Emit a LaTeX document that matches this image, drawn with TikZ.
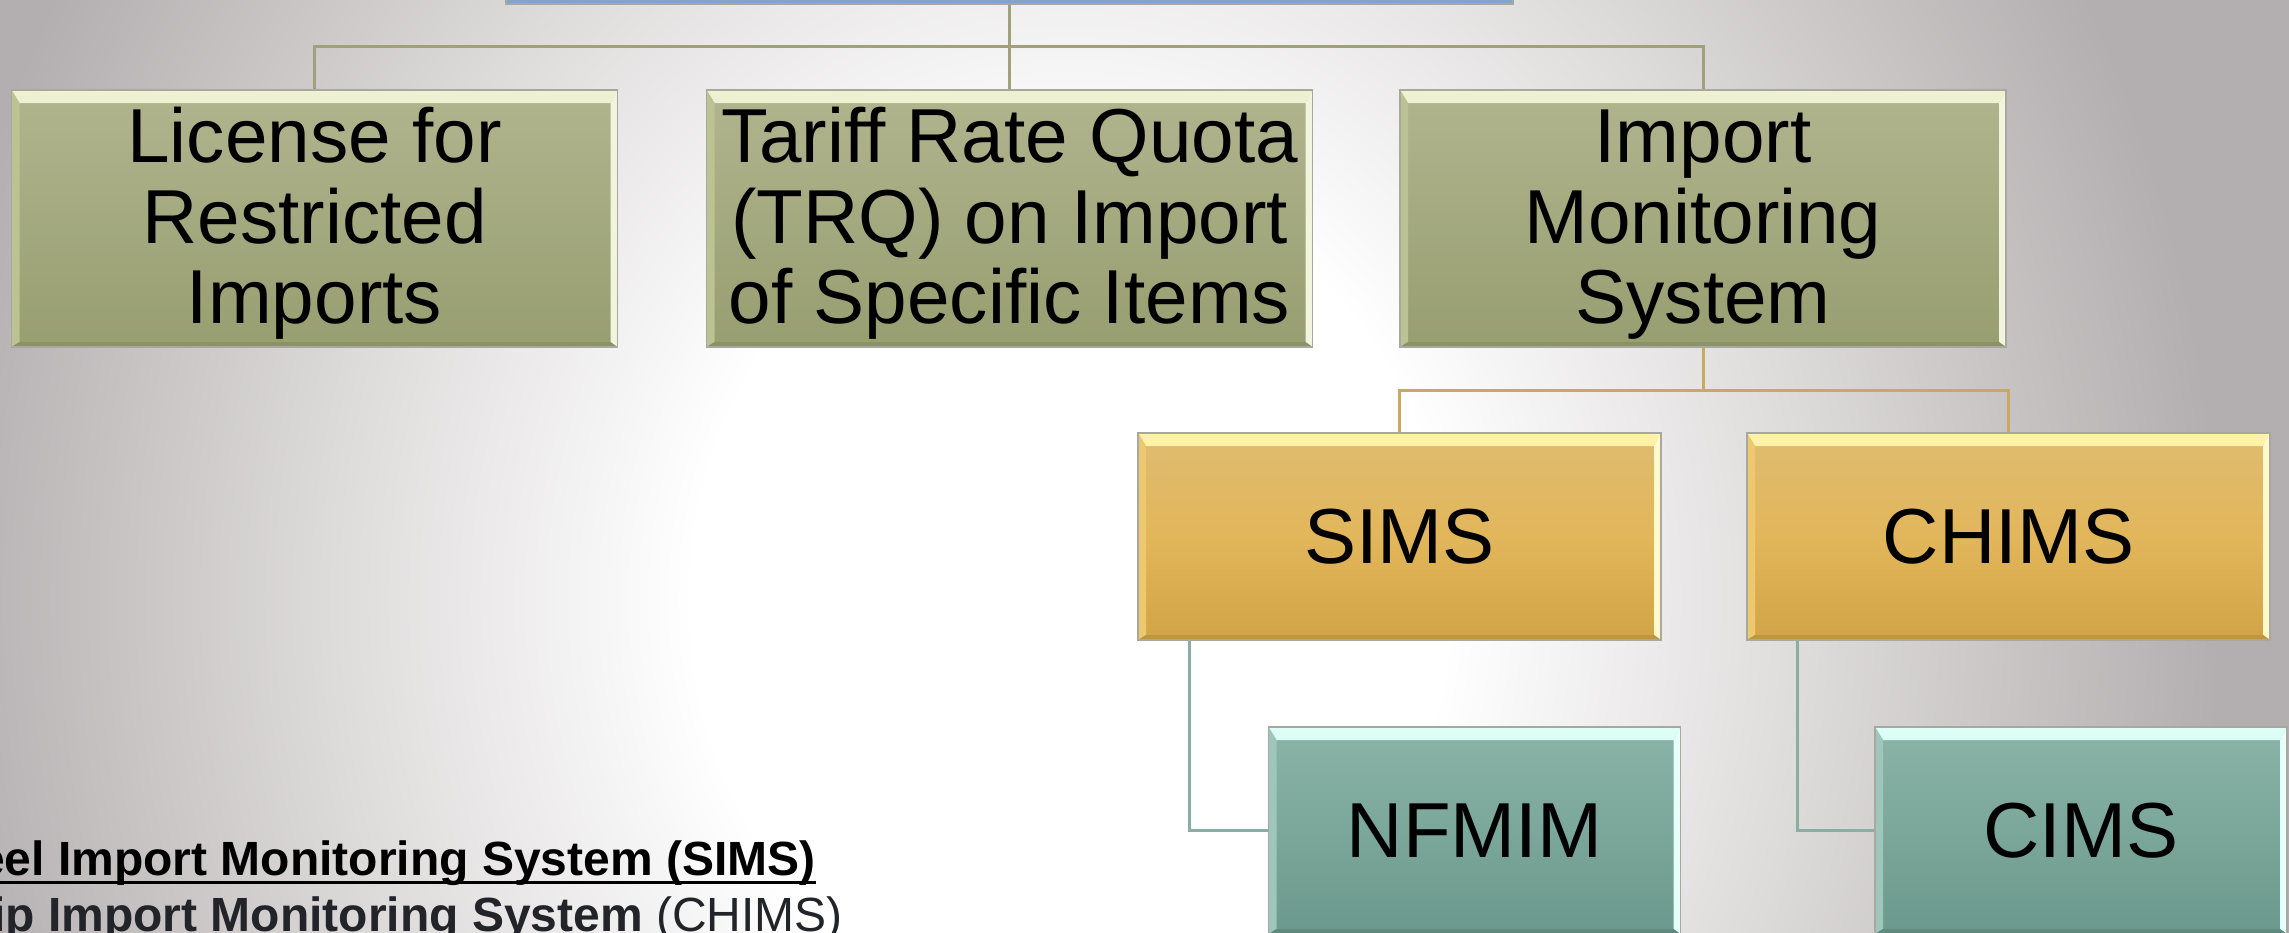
\documentclass[tikz,border=0pt]{standalone}
\usepackage{fontspec}
\setmainfont{Liberation Sans}
\usetikzlibrary{calc}

% slide background
\definecolor{bgedge}{HTML}{B3AEAF}
\definecolor{bgmid}{HTML}{DEDBDB}
% level 1 (olive)
\definecolor{grtop}{HTML}{B1B58F}
\definecolor{grbot}{HTML}{979E70}
\definecolor{grhi}{HTML}{EEF2D2}
\definecolor{grleft}{HTML}{BCC392}
\definecolor{grright}{HTML}{F2F5DE}
\definecolor{grbase}{HTML}{8C9268}
% level 2 (gold)
\definecolor{gdtop}{HTML}{DFBC72}
\definecolor{gdmid}{HTML}{E2B65A}
\definecolor{gdbot}{HTML}{D1A446}
\definecolor{gdhi}{HTML}{FFF2A8}
\definecolor{gdleft}{HTML}{EDC86F}
\definecolor{gdright}{HTML}{FFF9CC}
\definecolor{gdbase}{HTML}{C0953D}
% level 3 (teal)
\definecolor{tltop}{HTML}{8BB4A8}
\definecolor{tlbot}{HTML}{6C998D}
\definecolor{tlhi}{HTML}{DDFFF8}
\definecolor{tlleft}{HTML}{9EC6BA}
\definecolor{tlright}{HTML}{E6FFF9}
\definecolor{tlbase}{HTML}{608A7E}
% top box, outlines, connectors
\definecolor{rootblue}{HTML}{7FA6C8}
\definecolor{boxline}{HTML}{A8A8A0}
\definecolor{lineone}{HTML}{A0A07C}
\definecolor{linetwo}{HTML}{C9A962}
\definecolor{linethree}{HTML}{8CADA4}
\definecolor{notegrey}{HTML}{222429}

% the central 25bp of the shading spans the shaded path
\pgfdeclareradialshading{slidebg}{\pgfpoint{0bp}{0bp}}{%
  color(0bp)=(white); color(4.1bp)=(white); color(8bp)=(bgmid);
  color(12.5bp)=(bgedge); color(50bp)=(bgedge)}

% extra height on a first line, to lower a block of lines in its box
\newcommand{\lowerby}{\rule{0pt}{65pt}}

\tikzset{
  bevel/.style n args={4}{path picture={
    % top facet
    \shade[top color=#1, bottom color=#1!45!#2]
      (path picture bounding box.north west) -- (path picture bounding box.north east)
      -- ([shift={(-7pt,-13pt)}]path picture bounding box.north east)
      -- ([shift={(8pt,-13pt)}]path picture bounding box.north west) -- cycle;
    % left facet
    \fill[#2]
      (path picture bounding box.north west)
      -- ([shift={(8pt,-13pt)}]path picture bounding box.north west)
      -- ([shift={(8pt,5pt)}]path picture bounding box.south west)
      -- (path picture bounding box.south west) -- cycle;
    % right facet
    \fill[#3]
      (path picture bounding box.north east)
      -- ([shift={(-7pt,-13pt)}]path picture bounding box.north east)
      -- ([shift={(-7pt,5pt)}]path picture bounding box.south east)
      -- (path picture bounding box.south east) -- cycle;
    % bottom facet
    \fill[#4]
      (path picture bounding box.south west)
      -- ([shift={(8pt,5pt)}]path picture bounding box.south west)
      -- ([shift={(-7pt,5pt)}]path picture bounding box.south east)
      -- (path picture bounding box.south east) -- cycle;
  }},
  box/.style={rectangle, draw=boxline, line width=1.2pt, inner sep=0pt,
    align=center, text=black},
  greenbox/.style={box, top color=grtop, bottom color=grbot,
    bevel={grhi}{grleft}{grright}{grbase},
    minimum width=606pt, minimum height=257pt,
    font=\fontsize{76.5}{80.5}\selectfont},
  goldbox/.style={box, top color=gdtop, bottom color=gdbot, middle color=gdmid,
    bevel={gdhi}{gdleft}{gdright}{gdbase},
    minimum width=523pt, minimum height=207pt,
    font=\fontsize{78}{86}\selectfont},
  tealbox/.style={box, top color=tltop, bottom color=tlbot,
    bevel={tlhi}{tlleft}{tlright}{tlbase},
    minimum width=412pt, minimum height=207pt,
    font=\fontsize{78}{86}\selectfont},
  rootbox/.style={rectangle, fill=rootblue, draw=boxline, line width=1.2pt,
    minimum width=1007pt, minimum height=200pt, inner sep=0pt},
  conn/.style={line width=3pt},
  connone/.style={conn, draw=lineone},
  conntwo/.style={conn, draw=linetwo},
  connthree/.style={conn, draw=linethree},
  note/.style={anchor=base west, inner sep=0pt, font=\fontsize{48}{56}\selectfont\bfseries}
}

\begin{document}
\begin{tikzpicture}[x=1pt, y=-1pt]
  \useasboundingbox (0,0) rectangle (2289,932);
  \clip (0,0) rectangle (2289,932);

  % background
  \fill[bgedge] (0,0) rectangle (2289,932);
  \shade[shading=slidebg] (-1230,-1976) rectangle (3370,3176);

  % boxes
  \node[rootbox] (root) at (1009.5,-96) {};
  \node[greenbox] (lic) at (314.5,218.5) {\lowerby License for\\Restricted\\Imports};
  \node[greenbox] (trq) at (1009.5,218.5) {\lowerby Tariff Rate Quota\\(TRQ) on Import\\of Specific Items};
  \node[greenbox] (ims) at (1703,218.5) {\lowerby Import\\Monitoring\\System};
  \node[goldbox] (sims) at (1399.5,536.5) {SIMS};
  \node[goldbox] (chims) at (2008.5,536.5) {CHIMS};
  \node[tealbox] (nfmim) at (1474.5,830.5) {NFMIM};
  \node[tealbox] (cims) at (2081,830.5) {CIMS};

  % connectors, level 1
  \coordinate (busone) at (1009.5,46);
  \draw[connone] (root.south) -- (busone);
  \draw[connone] (busone) -| (lic.north);
  \draw[connone] (busone) -- (trq.north);
  \draw[connone] (busone) -| (ims.north);

  % connectors, level 2
  \coordinate (bustwo) at (1703,390);
  \draw[conntwo] (ims.south) -- (bustwo);
  \draw[conntwo] (bustwo) -| (sims.north);
  \draw[conntwo] (bustwo) -| (chims.north);

  % connectors, level 3
  \draw[connthree] ([xshift=52pt]sims.south west) |- (nfmim.west);
  \draw[connthree] ([xshift=51pt]chims.south west) |- (cims.west);

  % notes at the lower left
  \node[note, text=black] (noteone) at (-22,875) {eel Import Monitoring System (SIMS)};
  \draw[line width=3pt] ([yshift=-7pt]noteone.base west) -- ([yshift=-7pt]noteone.base east);
  \node[note, text=notegrey] (notetwo) at (-8,931) {ip Import Monitoring System \mdseries(CHIMS)};
\end{tikzpicture}
\end{document}
